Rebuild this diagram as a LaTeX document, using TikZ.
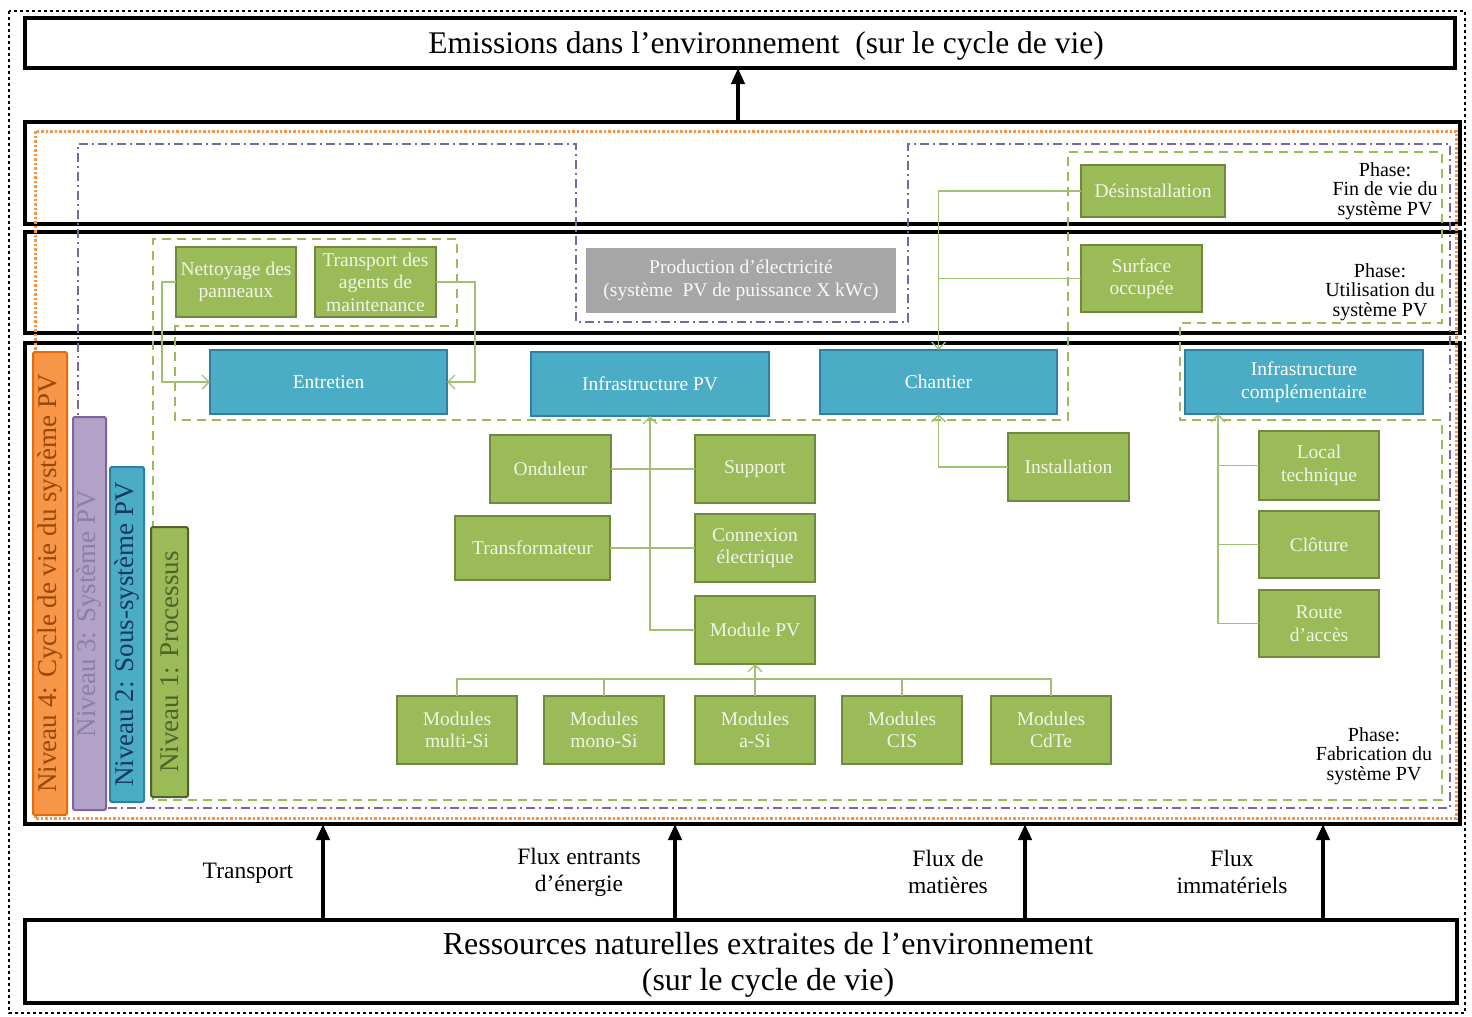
\documentclass[tikz,border=0pt]{standalone}
\usepackage{fontspec}
\setmainfont{Liberation Serif}
\usetikzlibrary{arrows.meta}
\definecolor{gfill}{HTML}{9BBB59}
\definecolor{gdraw}{HTML}{71893F}
\definecolor{gtext}{HTML}{F0F5E6}
\definecolor{bfill}{HTML}{4BACC6}
\definecolor{bdraw}{HTML}{2F7FA0}
\definecolor{grayfill}{HTML}{A6A6A6}
\definecolor{ofill}{HTML}{F79646}
\definecolor{odraw}{HTML}{E46C0A}
\definecolor{otext}{HTML}{984807}
\definecolor{pfill}{HTML}{B3A2C7}
\definecolor{pdraw}{HTML}{8064A2}
\definecolor{ptext}{HTML}{8A7FA6}
\definecolor{btext}{HTML}{17375E}
\definecolor{g1text}{HTML}{4F6228}
\definecolor{g1draw}{HTML}{4F6228}
\definecolor{connc}{HTML}{A3BF72}
\begin{document}
\begin{tikzpicture}[x=1pt,y=-1pt,
  every node/.style={inner sep=0pt, outer sep=0pt},
  gbox/.style={rectangle, fill=gfill, draw=gdraw, line width=2.5pt, text=gtext, align=center, font=\fontsize{19.5}{22.5}\selectfont},
  bbox/.style={rectangle, fill=bfill, draw=bdraw, line width=2.5pt, text=white, align=center, font=\fontsize{19.5}{23}\selectfont},
  phasebox/.style={rectangle, draw=black, line width=4pt},
  titlebox/.style={rectangle, draw=black, line width=4pt, align=center},
  barbox/.style={rectangle, rounded corners=2pt, line width=2pt, rotate=90, font=\fontsize{27}{27}\selectfont},
  conn/.style={draw=connc, line width=1.3pt},
  carrow/.style={conn, -{Straight Barb[length=7pt,width=14pt]}},
  bigarrow/.style={draw=black, line width=4pt, -{Triangle[length=16pt,width=13pt]}},
  gdash/.style={draw=gfill, line width=2.2pt, dash pattern=on 9pt off 6pt},
  pdash/.style={draw=pdraw, line width=2pt, dash pattern=on 9pt off 4pt on 2pt off 4pt},
  odot/.style={draw=ofill, line width=3pt, dash pattern=on 2.5pt off 2pt},
  phaselbl/.style={align=center, font=\fontsize{20}{19.5}\selectfont},
  flowlbl/.style={align=center, font=\fontsize{23.5}{27}\selectfont}
]
\useasboundingbox (0,0) rectangle (1472,1017);
% outer dotted frame
\draw[black, line width=1.5pt, dash pattern=on 3pt off 3pt] (9,11) rectangle (1465,1013);

% title boxes
\node[titlebox, minimum width=1430, minimum height=50] (emis) at (740,43) {};
\node[align=center, font=\fontsize{31.5}{34}\selectfont] (emist) at (766,46) {Emissions dans l’environnement\ \ (sur le cycle de vie)};
\node[titlebox, minimum width=1432, minimum height=83] (res) at (741,961.5) {};
\node[align=center, font=\fontsize{32}{36}\selectfont] (rest) at (768,965) {Ressources naturelles extraites de l’environnement\\(sur le cycle de vie)};

% phase boxes
\node[phasebox, minimum width=1435, minimum height=102] (fin) at (742.5,173) {};
\node[phasebox, minimum width=1435, minimum height=101] (util) at (742.5,282.5) {};
\node[phasebox, minimum width=1435, minimum height=481] (fab) at (742.5,583.5) {};

% boundaries
\draw[odot] (35,131) rectangle (1456,818);
\draw[pdash] (78,808) -- (78,144) -- (576,144) -- (576,322) -- (908,322) -- (908,144) -- (1450,144) -- (1450,808) -- cycle;
\draw[gdash] (153,800) -- (153,239) -- (457,239) -- (457,326) -- (175,326) -- (175,420) -- (1068,420) -- (1068,152) -- (1442,152) -- (1442,323) -- (1180,323) -- (1180,420) -- (1442,420) -- (1442,800) -- cycle;

% big arrows
\coordinate (ax) at (738,0);
\draw[bigarrow] (fin.north -| ax) -- (emis.south -| ax);
\foreach \xx in {323,675,1025,1323}{
  \coordinate (bx\xx) at (\xx,0);
  \draw[bigarrow] (res.north -| bx\xx) -- (fab.south -| bx\xx);
}

% flow labels
\node[flowlbl] (l1) at (248,873) {Transport};
\node[flowlbl] (l2) at (579,872) {Flux entrants\\d’énergie};
\node[flowlbl] (l3) at (948,872) {Flux de\\matières};
\node[flowlbl] (l4) at (1232,872) {Flux\\immatériels};

% phase labels
\node[phaselbl] (p1) at (1385,191) {Phase:\\Fin de vie du\\système PV};
\node[phaselbl] (p2) at (1380,292) {Phase:\\Utilisation du\\système PV};
\node[phaselbl] (p3) at (1374,756) {Phase:\\Fabrication du\\système PV};

% level bars
\node[barbox, fill=ofill, draw=odraw, text=otext, minimum width=463, minimum height=34] (n4) at (50,583.5) {Niveau 4: Cycle de vie du système PV};
\node[barbox, fill=pfill, draw=pdraw, text=ptext, minimum width=393, minimum height=33] (n3) at (89.5,613.5) {Niveau 3: Système PV};
\node[barbox, fill=bfill, draw=bdraw, text=btext, minimum width=335, minimum height=34] (n2) at (127,634.5) {Niveau 2: Sous-système PV};
\node[barbox, fill=gfill, draw=g1draw, text=g1text, minimum width=270, minimum height=37] (n1) at (169.5,662) {Niveau 1: Processus};

% boxes
\node[gbox, minimum width=120, minimum height=70] (net) at (236,282) {Nettoyage des\\panneaux};
\node[gbox, minimum width=121, minimum height=70] (trans) at (375.5,282) {Transport des\\agents de\\maintenance};
\node[rectangle, fill=grayfill, text=white!95!gray, align=center, font=\fontsize{19.5}{23}\selectfont, minimum width=310, minimum height=65] (prod) at (741,280) {Production d’électricité\\(système\ \ PV de puissance X kWc)};
\node[gbox, minimum width=144, minimum height=52] (des) at (1153,191) {Désinstallation};
\node[gbox, minimum width=121, minimum height=67] (surf) at (1141.5,278.5) {Surface\\occupée};

\node[bbox, minimum width=237, minimum height=64] (entr) at (328.5,382) {Entretien};
\node[bbox, minimum width=238, minimum height=64] (infpv) at (650,384) {Infrastructure PV};
\node[bbox, minimum width=237, minimum height=64] (chant) at (938.5,382) {Chantier};
\node[bbox, minimum width=238, minimum height=64] (infc) at (1304,382) {Infrastructure\\complémentaire};

\node[gbox, minimum width=121, minimum height=68] (ond) at (550.5,469) {Onduleur};
\node[gbox, minimum width=120, minimum height=68] (supp) at (755,469) {Support};
\node[gbox, minimum width=155, minimum height=64] (transf) at (532.5,548) {Transformateur};
\node[gbox, minimum width=120, minimum height=68] (conx) at (755,548) {Connexion\\électrique};
\node[gbox, minimum width=120, minimum height=68] (modpv) at (755,630) {Module PV};
\node[gbox, minimum width=121, minimum height=68] (inst) at (1068.5,467) {Installation};
\node[gbox, minimum width=120, minimum height=69] (loc) at (1319,465.5) {Local\\technique};
\node[gbox, minimum width=120, minimum height=67] (clo) at (1319,544.5) {Clôture};
\node[gbox, minimum width=120, minimum height=67] (route) at (1319,623.5) {Route\\d’accès};

\node[gbox, minimum width=120, minimum height=68] (m1) at (457,730) {Modules\\multi-Si};
\node[gbox, minimum width=120, minimum height=68] (m2) at (604,730) {Modules\\mono-Si};
\node[gbox, minimum width=120, minimum height=68] (m3) at (755,730) {Modules\\a-Si};
\node[gbox, minimum width=120, minimum height=68] (m4) at (902,730) {Modules\\CIS};
\node[gbox, minimum width=120, minimum height=68] (m5) at (1051,730) {Modules\\CdTe};

% connectors
\draw[carrow] (net.west) -- ++(-14,0) |- (entr.west);
\draw[carrow] (trans.east) -- ++(39,0) |- (entr.east);

\draw[carrow] (modpv.west) -| (infpv.south);
\draw[conn] (ond.east) -- (supp.west);
\draw[conn] (transf.east) -- (conx.west);

\coordinate (bus) at (0,679);
\draw[conn] (m1.north) -- (m1.north |- bus) -- (m5.north |- bus) -- (m5.north);
\draw[conn] (m2.north) -- (m2.north |- bus);
\draw[conn] (m4.north) -- (m4.north |- bus);
\draw[carrow] (m3.north) -- (modpv.south);

\draw[carrow] (des.west) -| (chant.north);
\draw[conn] (surf.west) -- (surf.west -| chant.north);
\draw[carrow] (inst.west) -| (chant.south);

\coordinate (icv) at (1218,414);
\draw[carrow] (route.west) -| (icv);
\draw[conn] (loc.west) -- (loc.west -| icv);
\draw[conn] (clo.west) -- (clo.west -| icv);
\end{tikzpicture}
\end{document}
